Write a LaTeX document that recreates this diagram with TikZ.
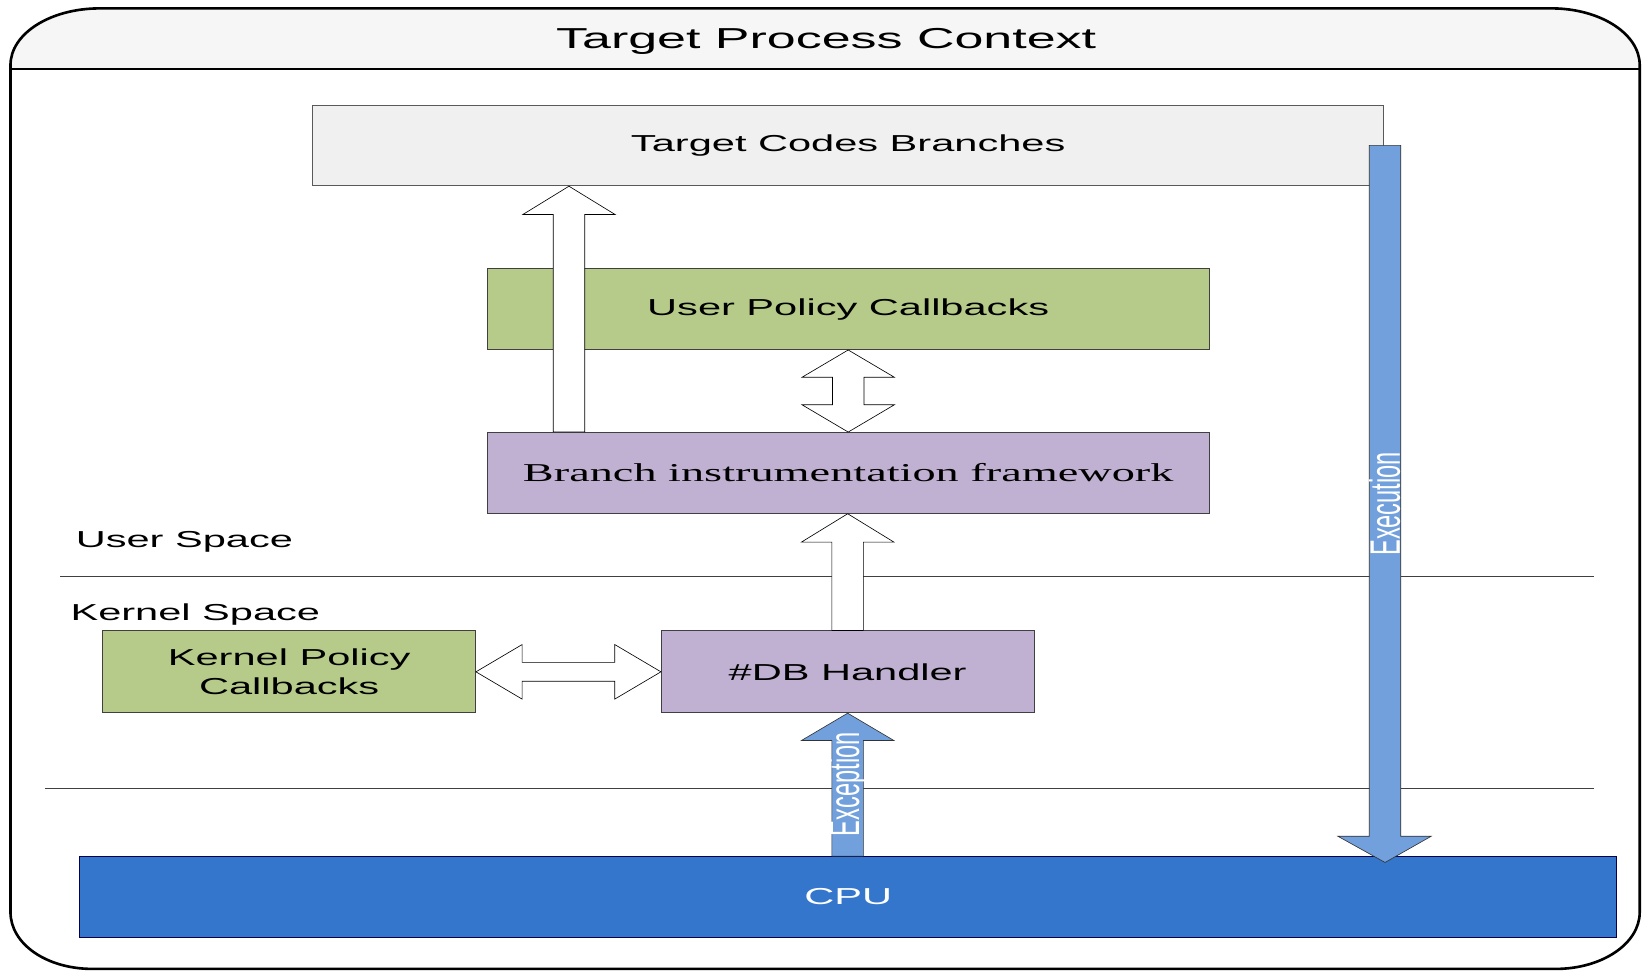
\documentclass[tikz,border=0pt]{standalone}
\usepackage{fontspec}
\setmainfont{Liberation Sans}
\newfontfamily\bifserif{Liberation Serif}
\usetikzlibrary{calc}
\newcommand{\wide}[1]{\scalebox{1.8}[1]{#1}}
\newcommand{\tall}[1]{\scalebox{1}[1.8]{#1}}
\definecolor{tcbgray}{RGB}{240,240,240}
\definecolor{polgreen}{RGB}{182,203,137}
\definecolor{fwpurple}{RGB}{192,176,209}
\definecolor{cpublue}{RGB}{52,118,204}
\definecolor{flowblue}{RGB}{114,160,220}
\begin{document}
\begin{tikzpicture}
[x=1pt,y=1pt,
 box/.style={draw=black!75,line width=0.8pt,minimum height=77pt,inner sep=0pt,font=\fontsize{22}{27}\selectfont},
 hollow/.style={draw=black,line width=0.6pt,fill=white},
 flow/.style={draw=black!80,line width=0.6pt,fill=flowblue},
 flowtext/.style={text=white,rotate=90,inner sep=0pt,font=\fontsize{22.5}{24}\selectfont},
 spacelabel/.style={anchor=west,inner sep=0pt,font=\fontsize{22}{24}\selectfont}]
\useasboundingbox (0,0) rectangle (1568,925);
%% process frame with its header
\fill[gray!7] (10,859) -- (10,863) .. controls (10,893) and (48,917) .. (95,917) -- (1478,917)
  .. controls (1524,917) and (1562,893) .. (1562,863) -- (1562,859) -- cycle;
\draw[line width=2.5pt] (10,863) .. controls (10,893) and (48,917) .. (95,917) -- (1478,917)
  .. controls (1524,917) and (1562,893) .. (1562,863) -- (1562,56)
  .. controls (1562,26) and (1526,2) .. (1482,2) -- (88,2)
  .. controls (44,2) and (10,26) .. (10,56) -- cycle;
\draw[line width=2pt] (10,859) -- (1562,859);
\node[font=\fontsize{27.5}{30}\selectfont] (title) at (787,886) {\wide{Target Process Context}};
%% space separators
\draw[black!75,line width=0.8pt] (57,376) -- (1518,376);
\draw[black!75,line width=0.8pt] (43,174) -- (1518,174);
\node[spacelabel] (user) at (72,409) {\wide{User Space}};
\node[spacelabel] (kernel) at (67,340) {\wide{Kernel Space}};
%% boxes
\node[box,fill=tcbgray,draw=black!65,minimum width=1020pt] (tcb) at (808,786.5) {\wide{Target Codes Branches}};
\node[box,fill=polgreen,minimum width=688pt] (upc) at (808,630.5) {\wide{User Policy Callbacks}};
\node[box,fill=fwpurple,minimum width=688pt,font=\bifserif\fontsize{24.5}{27}\selectfont] (bif) at (808,474.5) {\wide{Branch instrumentation framework}};
\node[box,fill=polgreen,minimum width=355pt,minimum height=78pt,align=center] (kpc) at (275.5,285) {\wide{Kernel Policy}\\\wide{Callbacks}};
\node[box,fill=fwpurple,minimum width=355pt,minimum height=78pt] (dbh) at (807.5,285) {\wide{\#DB Handler}};
\node[box,fill=cpublue,draw=black!70!blue,minimum width=1464pt,text=white] (cpu) at (808,70.5) {\wide{CPU}};
%% hollow arrows
\draw[hollow] let \p1=(bif.north), \p2=(tcb.south) in
  (527pt,\y1) -- (527pt,\y2-27pt) -- (498pt,\y2-27pt) -- (542pt,\y2) -- (586pt,\y2-27pt) -- (557pt,\y2-27pt) -- (557pt,\y1) -- cycle;
\draw[hollow] let \p1=(bif.north), \p2=(upc.south) in
  (\x1,\y1) -- (\x1+44pt,\y1+26pt) -- (\x1+15pt,\y1+26pt) -- (\x1+15pt,\y2-26pt) -- (\x1+44pt,\y2-26pt) -- (\x1,\y2)
  -- (\x1-44pt,\y2-26pt) -- (\x1-15pt,\y2-26pt) -- (\x1-15pt,\y1+26pt) -- (\x1-44pt,\y1+26pt) -- cycle;
\draw[hollow] let \p1=(dbh.north), \p2=(bif.south) in
  (\x1-15pt,\y1) -- (\x1-15pt,\y2-27pt) -- (\x1-44pt,\y2-27pt) -- (\x1,\y2) -- (\x1+44pt,\y2-27pt) -- (\x1+15pt,\y2-27pt) -- (\x1+15pt,\y1) -- cycle;
\draw[hollow] let \p1=(kpc.east), \p2=(dbh.west) in
  (\x1,\y1) -- (\x1+44pt,\y1+26pt) -- (\x1+44pt,\y1+9pt) -- (\x2-44pt,\y1+9pt) -- (\x2-44pt,\y1+26pt) -- (\x2,\y1)
  -- (\x2-44pt,\y1-26pt) -- (\x2-44pt,\y1-9pt) -- (\x1+44pt,\y1-9pt) -- (\x1+44pt,\y1-26pt) -- cycle;
%% exception and execution
\draw[flow] let \p1=(cpu.north), \p2=(dbh.south) in
  (\x2-15pt,\y1) -- (\x2-15pt,\y2-26pt) -- (\x2-44pt,\y2-26pt) -- (\x2,\y2) -- (\x2+44pt,\y2-26pt) -- (\x2+15pt,\y2-26pt) -- (\x2+15pt,\y1) -- cycle;
\node[flowtext] (exc) at (808,178) {\tall{Exception}};
\draw[flow] let \p1=(tcb.east), \p2=(cpu.north) in
  (\x1-14pt,\y1) -- (\x1+16pt,\y1) -- (\x1+16pt,\y2+19pt) -- (\x1+45pt,\y2+19pt) -- (\x1+1pt,\y2-6pt) -- (\x1-44pt,\y2+19pt) -- (\x1-14pt,\y2+19pt) -- cycle;
\node[flowtext] (exe) at (1319,445) {\tall{Execution}};
\end{tikzpicture}
\end{document}
